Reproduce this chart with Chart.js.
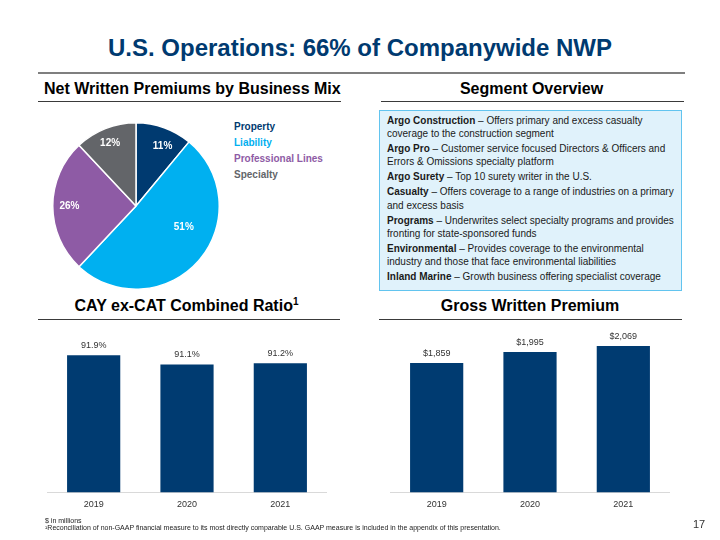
<!DOCTYPE html>
<html>
<head>
<meta charset="utf-8">
<title>U.S. Operations</title>
<script src="https://cdn.jsdelivr.net/npm/chart.js@4.4.1/dist/chart.umd.min.js"></script>
<style>
  body { margin: 0; background: #fff; font-family: "Liberation Sans", Arial, sans-serif; }
  #slide { position: relative; width: 720px; height: 540px; overflow: hidden; }
  .abs { position: absolute; white-space: nowrap; }
  .title { left: 0; width: 720px; top: 34px; text-align: center; font-size: 24px; font-weight: bold; color: #003A70; line-height: 28px; }
  .head { font-size: 16px; font-weight: bold; color: #000; text-align: center; line-height: 20px; }
  .head sup { font-size: 10px; vertical-align: 6px; line-height: 0; }
  .rule { position: absolute; height: 1px; background: #3a3a3a; }
  #box { position: absolute; left: 379px; top: 110px; width: 303px; height: 181px; box-sizing: border-box;
         background: #e0f2fb; border: 1px solid #62c4ef; padding: 3px 6px 0 7px; font-size: 10px; color: #1a1a1a; }
  #box p { margin: 0 0 1.8px 0; line-height: 13.2px; }
  #legend { position: absolute; left: 234px; top: 119px; font-size: 10px; font-weight: bold; line-height: 16px; }
  .foot { position: absolute; left: 45px; font-size: 7px; color: #222; line-height: 8px; white-space: nowrap; }
  canvas { position: absolute; }
</style>
</head>
<body>
<div id="slide">
  <div class="abs title">U.S. Operations: 66% of Companywide NWP</div>
  <div style="position:absolute;left:38px;top:72px;width:647px;height:2px;background:#7f7f7f"></div>

  <div class="abs head" style="left:44px;width:296px;top:79px">Net Written Premiums by Business Mix</div>
  <div class="rule" style="left:38px;top:101px;width:303px"></div>
  <div class="abs head" style="left:381px;width:301px;top:79px">Segment Overview</div>
  <div class="rule" style="left:381px;top:101px;width:303px"></div>

  <div id="box">
    <p><b>Argo Construction</b> – Offers primary and excess casualty<br>coverage to the construction segment</p>
    <p><b>Argo Pro</b> – Customer service focused Directors &amp; Officers and<br>Errors &amp; Omissions specialty platform</p>
    <p><b>Argo Surety</b> – Top 10 surety writer in the U.S.</p>
    <p><b>Casualty</b> – Offers coverage to a range of industries on a primary<br>and excess basis</p>
    <p><b>Programs</b> – Underwrites select specialty programs and provides<br>fronting for state-sponsored funds</p>
    <p><b>Environmental</b> – Provides coverage to the environmental<br>industry and those that face environmental liabilities</p>
    <p><b>Inland Marine</b> – Growth business offering specialist coverage</p>
  </div>

  <canvas id="mixPie" width="168" height="168" style="left:52px;top:122px"></canvas>
  <div id="legend"></div>

  <div class="abs head" style="left:38px;width:297px;top:296px">CAY ex-CAT Combined Ratio<sup>1</sup></div>
  <div class="rule" style="left:38px;top:319px;width:302px"></div>
  <div class="abs head" style="left:379px;width:302px;top:296px">Gross Written Premium</div>
  <div class="rule" style="left:379px;top:319px;width:303px"></div>

  <canvas id="cayChart" width="280" height="200" style="left:47px;top:321px"></canvas>
  <canvas id="gwpChart" width="280" height="200" style="left:390px;top:321px"></canvas>

  <div class="foot" style="top:517px">$ in millions</div>
  <div class="foot" style="top:524px">¹Reconciliation of non-GAAP financial measure to its most directly comparable U.S. GAAP measure is included in the appendix of this presentation.</div>
  <div class="abs" style="left:693px;top:517px;font-size:11px;color:#333;line-height:14px">17</div>
</div>

<script>
// pie: net written premiums by business mix
const mixLabels = ['Property', 'Liability', 'Professional Lines', 'Specialty'];
const mixShares = [11, 51, 26, 12];
const mixColors = ['#003A70', '#00B0F0', '#8E5BA5', '#636569'];

// bars
const years = ['2019', '2020', '2021'];
const cayRatio = [91.9, 91.1, 91.2];
const gwp = [1859, 1995, 2069];

const navy = '#003B71';
const fontFamily = '"Liberation Sans", Arial, sans-serif';

// where the % labels sit inside each slice (fraction of radius, turn in degrees)
const labelSpots = [
  { r: 0.79, turn: 4 },
  { r: 0.63, turn: -17 },
  { r: 0.8, turn: 0 },
  { r: 0.81, turn: -1 }
];

// legend as plain text
document.getElementById('legend').innerHTML = mixLabels
  .map((l, i) => `<div style="color:${mixColors[i]}">${l}</div>`).join('');

const pieLabels = {
  id: 'pieLabels',
  afterDatasetsDraw(chart) {
    const ctx = chart.ctx;
    const meta = chart.getDatasetMeta(0);
    ctx.save();
    ctx.font = 'bold 10px ' + fontFamily;
    ctx.fillStyle = '#fff';
    ctx.textAlign = 'center';
    ctx.textBaseline = 'middle';
    meta.data.forEach((arc, i) => {
      const p = arc.getProps(['x', 'y', 'startAngle', 'endAngle', 'outerRadius'], true);
      const a = (p.startAngle + p.endAngle) / 2 + labelSpots[i].turn * Math.PI / 180;
      const r = p.outerRadius * labelSpots[i].r;
      ctx.fillText(mixShares[i] + '%', p.x + Math.cos(a) * r, p.y + Math.sin(a) * r);
    });
    ctx.restore();
  }
};

new Chart(document.getElementById('mixPie'), {
  type: 'pie',
  data: {
    labels: mixLabels,
    datasets: [{
      data: mixShares,
      backgroundColor: mixColors,
      borderColor: '#fff',
      borderWidth: 1.5,
      hoverOffset: 0
    }]
  },
  options: {
    responsive: false,
    animation: false,
    layout: { padding: 0 },
    plugins: { legend: { display: false }, tooltip: { enabled: false } }
  },
  plugins: [pieLabels]
});

// value labels above the bars
function barLabels(fmt) {
  return {
    id: 'barLabels',
    afterDatasetsDraw(chart) {
      const ctx = chart.ctx;
      const ds = chart.data.datasets[0].data;
      ctx.save();
      ctx.font = '9px ' + fontFamily;
      ctx.fillStyle = '#333';
      ctx.textAlign = 'center';
      ctx.textBaseline = 'middle';
      chart.getDatasetMeta(0).data.forEach((bar, i) => {
        ctx.fillText(fmt(ds[i]), bar.x, bar.y - 9.5);
      });
      ctx.restore();
    }
  };
}

function makeBars(id, values, yMin, yMax, fmt) {
  return new Chart(document.getElementById(id), {
    type: 'bar',
    data: {
      labels: years,
      datasets: [{
        data: values,
        backgroundColor: navy,
        borderWidth: 0,
        barPercentage: 0.57,
        categoryPercentage: 1.0
      }]
    },
    options: {
      responsive: false,
      animation: false,
      layout: { padding: { top: 10, bottom: 4, left: 0, right: 0 } },
      scales: {
        x: {
          grid: { display: false, drawTicks: false },
          border: { display: true, color: '#d9d9d9', width: 1 },
          ticks: { color: '#333', padding: 7, font: { size: 9, family: fontFamily } }
        },
        y: { display: false, min: yMin, max: yMax }
      },
      plugins: { legend: { display: false }, tooltip: { enabled: false } }
    },
    plugins: [barLabels(fmt)]
  });
}

makeBars('cayChart', cayRatio, 80, 94.0, v => v.toFixed(1) + '%');
makeBars('gwpChart', gwp, 260, 2255, v => '$' + v.toLocaleString('en-US'));
</script>
</body>
</html>
